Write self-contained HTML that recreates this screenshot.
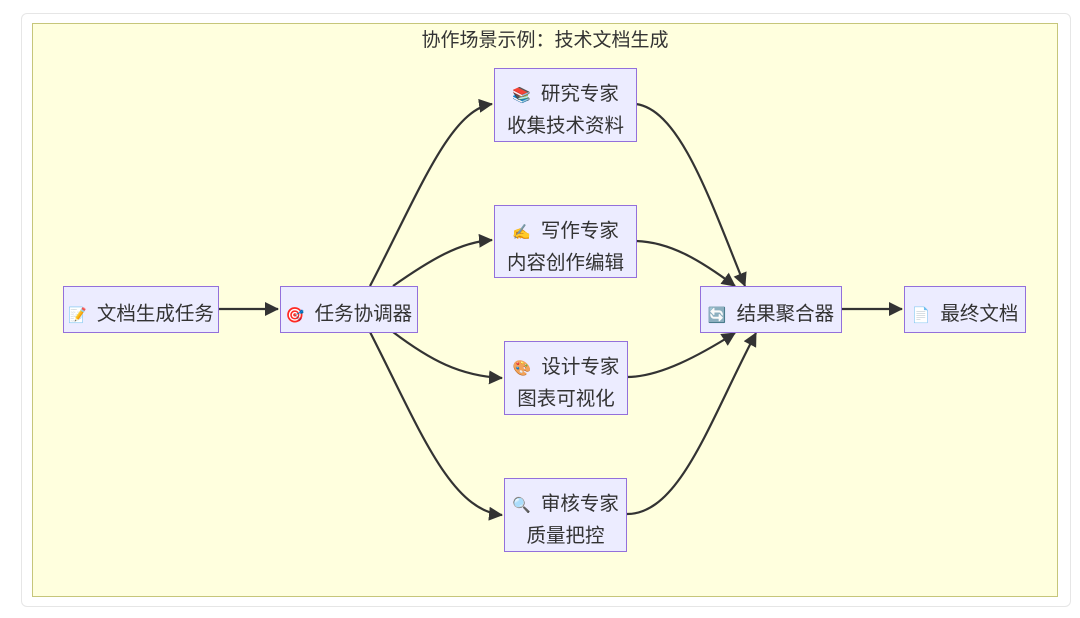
<!DOCTYPE html>
<html><head><meta charset="utf-8"><style>
body{margin:0;background:#fff;width:1080px;height:618px;overflow:hidden;font-family:"Liberation Sans","Noto Sans CJK SC",sans-serif}
.card{position:absolute;left:21px;top:13px;width:1048px;height:592px;border:1px solid #e6e6e6;border-radius:6px;background:#fff}
.cl{position:absolute;left:32px;top:23px;width:1024px;height:572px;background:#ffffde;border:1.5px solid #c6c67a}
.t{position:absolute;left:0;width:1090px;top:25px;text-align:center;font-size:19px;color:#333}
.n{position:absolute;background:#ececff;border:1.5px solid #9370db;box-sizing:border-box;font-size:19.5px;color:#333;text-align:center;line-height:30px;display:flex;flex-direction:column;justify-content:center;white-space:nowrap;padding-top:10px}
.i{font-size:15px;margin-right:10px}
</style></head><body>
<div class="card"></div><div class="cl"></div>
<div class="t">协作场景示例：技术文档生成</div>
<svg width="1080" height="618" style="position:absolute;left:0;top:0">
<defs><marker id="a" markerWidth="14" markerHeight="14" refX="13" refY="7" orient="auto" markerUnits="userSpaceOnUse"><path d="M0,0L14,7L0,14z" fill="#333"/></marker></defs>
<g fill="none" stroke="#333" stroke-width="2.2" marker-end="url(#a)">
<path d="M218,309 L278,309"/>
<path d="M370,286 C420,190 450,110 492,104"/>
<path d="M393,286 C430,260 460,242 492,240"/>
<path d="M393,332 C430,360 460,376 502,378"/>
<path d="M370,332 C420,430 450,510 502,515"/>
<path d="M636,104 C680,110 710,200 745,286"/>
<path d="M636,241 C670,242 700,260 735,286"/>
<path d="M627,377 C660,377 700,355 735,333"/>
<path d="M627,514 C680,514 710,420 756,333"/>
<path d="M841,309 L902,309"/>
</g></svg>
<div class="n" style="left:63px;top:286px;width:156px;height:47px"><div><span class="i">📝</span>文档生成任务</div></div>
<div class="n" style="left:280px;top:286px;width:138px;height:47px"><div><span class="i">🎯</span>任务协调器</div></div>
<div class="n" style="left:494px;top:68px;width:143px;height:74px"><div><span class="i">📚</span>研究专家</div><div>收集技术资料</div></div>
<div class="n" style="left:494px;top:205px;width:143px;height:73px"><div><span class="i">✍️</span>写作专家</div><div>内容创作编辑</div></div>
<div class="n" style="left:504px;top:341px;width:124px;height:74px"><div><span class="i">🎨</span>设计专家</div><div>图表可视化</div></div>
<div class="n" style="left:504px;top:478px;width:123px;height:74px"><div><span class="i">🔍</span>审核专家</div><div>质量把控</div></div>
<div class="n" style="left:700px;top:286px;width:142px;height:47px"><div><span class="i">🔄</span>结果聚合器</div></div>
<div class="n" style="left:904px;top:286px;width:122px;height:47px"><div><span class="i">📄</span>最终文档</div></div>
</body></html>
